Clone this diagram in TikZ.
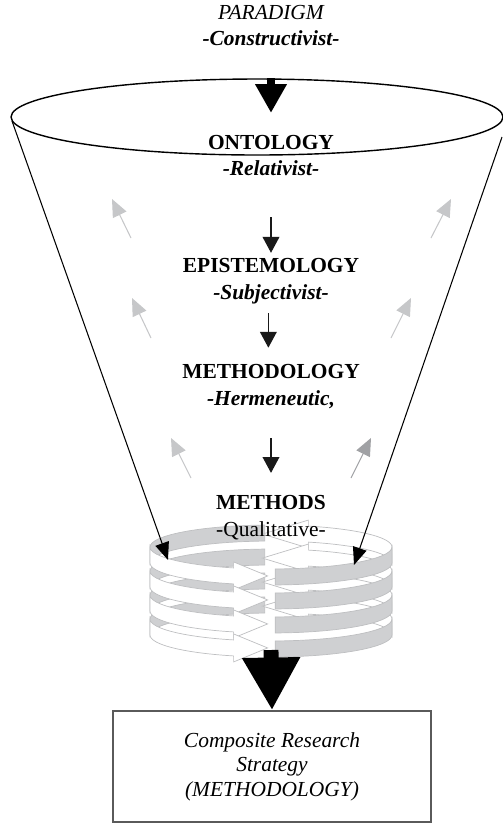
\documentclass[tikz,border=0pt]{standalone}
\usepackage{fontspec}
\setmainfont{Liberation Serif}
\usetikzlibrary{arrows.meta,backgrounds,shapes.geometric}
\definecolor{ribbon}{RGB}{207,208,210}
\definecolor{ribbonline}{RGB}{190,191,193}
\definecolor{hint}{RGB}{198,199,201}
\definecolor{hintdark}{RGB}{160,161,164}
\definecolor{boxline}{RGB}{90,90,90}

\begin{document}
\begin{tikzpicture}[
  x=0.02cm,y=-0.02cm,
  txt/.style={inner sep=0pt,text height=8.5pt,text depth=2.5pt,font=\fontsize{12.2}{14}\selectfont},
  level/.style={txt,font=\fontsize{12.2}{14}\selectfont\bfseries},
  stance/.style={txt,font=\fontsize{12.2}{14}\selectfont\bfseries\itshape},
  rim/.style={draw,ellipse,inner sep=0pt,minimum width=9.84cm,minimum height=1.52cm,line width=0.8pt},
  dn/.style={-{Triangle[length=9pt,width=9.5pt]},line width=0.7pt,black!90},
  cone/.style={-{Triangle[length=10pt,width=8pt]},line width=0.6pt},
  up/.style={-{Triangle[length=10pt,width=8.5pt]},line width=0.6pt,hint},
  graypart/.style={fill=ribbon,draw=ribbonline,line width=0.4pt},
  whitepart/.style={fill=white,draw=ribbonline,line width=0.4pt},
  box/.style={draw=boxline,line width=0.9pt,minimum width=6.36cm,minimum height=2.22cm,align=center,font=\fontsize{12.2}{14}\selectfont\itshape}
]
\newcommand{\ringback}[1]{%
  \filldraw[graypart] plot[domain=93:180,samples=16] ({271+121*cos(\x)},{#1-22*sin(\x)})
    -- plot[domain=180:93,samples=16] ({271+121*cos(\x)},{#1+16-22*sin(\x)}) -- cycle;
  \filldraw[whitepart] plot[domain=0:72,samples=16] ({271+121*cos(\x)},{#1-22*sin(\x)})
    -- ++(0,-6) -- ++(-46,14) -- ++(46,14) -- ++(0,-6)
    -- plot[domain=72:0,samples=16] ({271+121*cos(\x)},{#1+16-22*sin(\x)}) -- cycle;}
\newcommand{\ringfront}[1]{%
  \filldraw[whitepart] plot[domain=180:252,samples=16] ({271+121*cos(\x)},{#1-22*sin(\x)})
    -- ++(0,-6) -- ++(34,14) -- ++(-34,14) -- ++(0,-6)
    -- plot[domain=252:180,samples=16] ({271+121*cos(\x)},{#1+16-22*sin(\x)}) -- cycle;
  \filldraw[graypart] plot[domain=272:360,samples=16] ({271+121*cos(\x)},{#1-22*sin(\x)})
    -- plot[domain=360:272,samples=16] ({271+121*cos(\x)},{#1+16-22*sin(\x)}) -- cycle;}
\useasboundingbox (0,0) rectangle (503,823);

% ---- paradigm and funnel rim ----
\node[txt,font=\fontsize{12.2}{14}\selectfont\itshape] (para) at (271,14) {PARADIGM};
\node[stance] (constr) at (271,40) {-Constructivist-};
\node[rim] (rim) at (257,117) {};
\coordinate (topin) at (271,78);
\coordinate (lrim) at (12,121);
\coordinate (rrim) at (502,137);

% ---- levels ----
\node[level] (onto) at (271,144) {ONTOLOGY};
\node[stance] (relat) at (271,170) {-Relativist-};
\node[level] (episte) at (271,267) {EPISTEMOLOGY};
\node[stance] (subj) at (271,294) {-Subjectivist-};
\node[level] (method) at (271,373) {METHODOLOGY};
\node[stance] (herm) at (271,400) {-Hermeneutic,};
\node[level] (methods) at (271,504) {METHODS};
\node[txt] (qual) at (271,531) {-Qualitative-};

% ---- outcome ----
\node[box] (strat) at (272,766.5) {Composite Research\\Strategy\\(METHODOLOGY)};
\coordinate (botin) at (271,650);
\coordinate (ltip) at (168,560);
\coordinate (rtip) at (354,565);

% ---- spiral of cycles ----
\begin{scope}[on background layer]
\foreach \rt in {547,571,595,619} {\ringback{\rt}}
\foreach \rt in {547,571,595,619} {\ringfront{\rt}}
\end{scope}

% ---- arrows ----
\draw[line width=4.5pt,-{Triangle[length=16.4pt,width=17pt]},shorten >=12pt] (topin) -- (onto.north);
\draw[dn,shorten <=21.1pt,shorten >=2.4pt] (relat.south) -- (episte.north);
\draw[dn,shorten <=5.3pt,shorten >=8.7pt] ([xshift=-1.5pt]subj.south) -- ([xshift=-1.5pt]method.north);
\draw[dn,shorten <=16pt,shorten >=12pt] (herm.south) -- (methods.north);
\draw[cone] (lrim) -- (ltip);
\draw[cone] (rrim) -- (rtip);
\draw[line width=8.5pt,-{Triangle[length=30pt,width=31pt]}] (botin) -- (strat.north);
\foreach \tx/\ty/\hx/\hy in {131/238/112/199,431/238/451/199,151/338/132/298,391/338/411/298,191/478/171/438}
  \draw[up] (\tx,\ty) -- (\hx,\hy);
\draw[up,hintdark] (351,478) -- (371,438);
\end{tikzpicture}
\end{document}
